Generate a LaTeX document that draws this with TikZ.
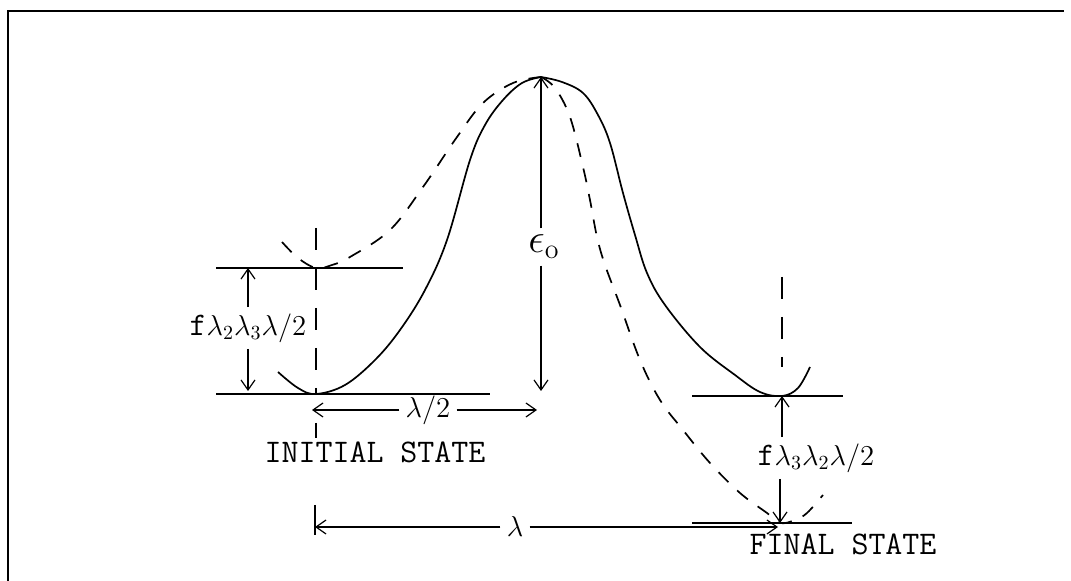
\documentclass[tikz,border=0pt]{standalone}
\usepackage{fontspec}
\usetikzlibrary{arrows.meta}
\begin{document}
\begin{tikzpicture}[x=0.5pt,y=-0.5pt,>={Straight Barb[length=5pt,width=7pt]},
  curve/.style={line width=0.85pt},
  cdash/.style={line width=0.85pt,dash pattern=on 7pt off 6pt},
  guide/.style={line width=0.6pt},
  vdash/.style={line width=0.7pt,dash pattern=on 11pt off 9pt},
  lab/.style={font=\fontsize{14.4}{17}\selectfont,inner sep=3pt},
  statename/.style={font=\ttfamily\fontsize{16.5}{19}\selectfont,inner sep=0pt}]
\useasboundingbox (0,0) rectangle (1071,581);
\draw[line width=1pt] (8,581) -- (8,11) -- (1064,11);
\coordinate (peak) at (541,77); \coordinate (ltop) at (316,268);
\coordinate (lmin) at (316,394); \coordinate (rmin) at (782,396);
\coordinate (fmin) at (780,523);
% levels
\draw[guide] (216,268) -- (403,268); \draw[guide] (216,394) -- (490,394);
\draw[guide] (692,396) -- (843,396); \draw[guide] (692,523) -- (852,523);
\draw[vdash] (316,228) -- (lmin); \draw[guide] (316,423) -- (316,438);
\draw[vdash] (782,277) -- (782,367);
% potential curves
\draw[curve] plot[smooth,tension=0.6] coordinates {(278,372) (298,388) (316,394)
  (345,385) (375,360) (400,330) (425,290) (447,240) (470,160) (485,125) (503,100)
  (522,83) (541,77)};
\draw[curve] plot[smooth,tension=0.6] coordinates {(541,77) (562,82) (583,93)
  (598,115) (610,143) (623,193) (635,235) (647,273) (665,305) (700,347) (735,375)
  (760,392) (782,396) (798,388) (810,367)};
\draw[cdash] plot[smooth,tension=0.6] coordinates {(282,242) (298,258) (316,268)
  (332,265) (350,257) (390,230) (423,187) (457,137) (483,103) (513,83) (541,77)};
\draw[cdash] plot[smooth,tension=0.6] coordinates {(541,77) (555,88) (570,117)
  (583,167) (590,200) (597,237) (605,265) (620,305) (640,360) (660,400) (683,430)
  (710,463) (740,493) (767,513) (780,523) (795,520) (807,513) (823,495)};
% labels and arrows
\node[lab,font=\fontsize{20}{24}\selectfont] (eps) at (544,247) {$\epsilon_{\mathrm{o}}$};
\draw[->,guide] (eps.north -| peak) -- (peak); \draw[->,guide] (eps.south -| peak) -- (541,391);
\node[lab] (lab1) at (248,328) {\texttt{\fontsize{16.5}{19}\selectfont f}$\lambda_2\lambda_3\lambda/2$};
\draw[->,guide] (lab1.north) -- (248,268); \draw[->,guide] (lab1.south) -- (248,391);
\node[lab] (half) at (428,410) {$\lambda/2$};
\draw[->,guide] (half) -- (312,410); \draw[->,guide] (half) -- (537,410);
\node[lab] (lab2) at (816,458) {\texttt{\fontsize{16.5}{19}\selectfont f}$\lambda_3\lambda_2\lambda/2$};
\draw[->,guide] (lab2.north -| rmin) -- (rmin); \draw[->,guide] (lab2.south -| fmin) -- (fmin);
\node[lab] (lam) at (515,527) {$\lambda$};
\draw[->,guide] (lam) -- (315,527); \draw[->,guide] (lam) -- (778,527);
\draw[guide] (315,505) -- (315,535);
\node[statename] (init) at (375,452) {INITIAL STATE};
\node[statename] (final) at (843,544) {FINAL STATE};
\end{tikzpicture}
\end{document}
